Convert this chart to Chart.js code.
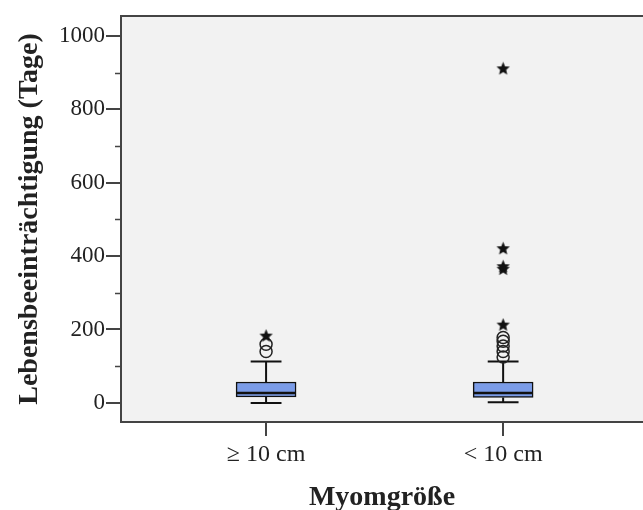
<!DOCTYPE html>
<html>
<head>
<meta charset="utf-8">
<script src="https://cdn.jsdelivr.net/npm/chart.js@4.4.1/dist/chart.umd.min.js"></script>
<style>
  html, body { margin: 0; padding: 0; background: #fff; }
  #wrap { width: 643px; height: 510px; }
</style>
</head>
<body>
<div id="wrap"><canvas id="box"></canvas></div>
<script>
// data
const groups = ['\u2265 10 cm', '< 10 cm'];
const q1 = [16, 15];
const median = [27, 27];
const q3 = [57, 57];
const whiskerLow = [0, 2];
const whiskerHigh = [113, 113];
const circleOutliers = [[140, 160], [125, 140, 155, 168, 178]];
const starOutliers = [[182], [212, 364, 371, 420, 910]];
const yTicks = [0, 200, 400, 600, 800, 1000];
const yMinorTicks = [100, 300, 500, 700, 900];

const serif = "'Liberation Serif', 'DejaVu Serif', serif";

// filled five point star used as point style
function makeStar(size) {
    const c = document.createElement('canvas');
    c.width = size; c.height = size;
    const g = c.getContext('2d');
    const r = size / 2, ri = r * 0.42;
    g.beginPath();
    for (let i = 0; i < 10; i++) {
        const rad = i % 2 ? ri : r - 0.5;
        const a = -Math.PI / 2 + i * Math.PI / 5;
        g.lineTo(r + rad * Math.cos(a), r + rad * Math.sin(a));
    }
    g.closePath();
    g.fillStyle = '#111';
    g.fill();
    return c;
}
const starImg = makeStar(15);

const circlePoints = [];
circleOutliers.forEach((arr, i) => arr.forEach(v => circlePoints.push({ x: i + 1, y: v })));
const starPoints = [];
starOutliers.forEach((arr, i) => arr.forEach(v => starPoints.push({ x: i + 1, y: v })));

// frame, minor ticks, whiskers and medians
const boxExtras = {
    id: 'boxExtras',
    beforeDraw(chart) {
        const { ctx, chartArea: a } = chart;
        ctx.save();
        ctx.fillStyle = '#f2f2f2';
        ctx.fillRect(a.left, a.top, a.right - a.left + 4, a.bottom - a.top);
        ctx.restore();
    },
    beforeDatasetsDraw(chart) {
        const { ctx, scales: { x, y } } = chart;
        ctx.save();
        ctx.strokeStyle = '#111';
        ctx.lineWidth = 2;
        groups.forEach((g, i) => {
            const cx = x.getPixelForValue(i + 1);
            const half = (x.getPixelForValue(1.065) - x.getPixelForValue(1));
            ctx.beginPath();
            ctx.moveTo(cx, y.getPixelForValue(q3[i]));
            ctx.lineTo(cx, y.getPixelForValue(whiskerHigh[i]));
            ctx.moveTo(cx, y.getPixelForValue(q1[i]));
            ctx.lineTo(cx, y.getPixelForValue(whiskerLow[i]));
            ctx.moveTo(cx - half, y.getPixelForValue(whiskerHigh[i]));
            ctx.lineTo(cx + half, y.getPixelForValue(whiskerHigh[i]));
            ctx.moveTo(cx - half, y.getPixelForValue(whiskerLow[i]));
            ctx.lineTo(cx + half, y.getPixelForValue(whiskerLow[i]));
            ctx.stroke();
        });
        ctx.restore();
    },
    afterDatasetsDraw(chart) {
        const { ctx, chartArea: a, scales: { x, y } } = chart;
        ctx.save();
        ctx.strokeStyle = '#111';
        ctx.lineWidth = 2.5;
        groups.forEach((g, i) => {
            const cx = x.getPixelForValue(i + 1);
            const half = (x.getPixelForValue(1.125) - x.getPixelForValue(1));
            const py = y.getPixelForValue(median[i]);
            ctx.beginPath();
            ctx.moveTo(cx - half, py);
            ctx.lineTo(cx + half, py);
            ctx.stroke();
        });
        // frame
        ctx.strokeStyle = '#444';
        ctx.lineWidth = 2;
        ctx.beginPath();
        ctx.moveTo(a.right + 4, a.top);
        ctx.lineTo(a.left, a.top);
        ctx.lineTo(a.left, a.bottom);
        ctx.lineTo(a.right + 4, a.bottom);
        ctx.stroke();
        // minor ticks
        ctx.lineWidth = 1.5;
        ctx.beginPath();
        yMinorTicks.forEach(v => {
            const py = Math.round(y.getPixelForValue(v)) + 0.5;
            ctx.moveTo(a.left - 6, py);
            ctx.lineTo(a.left, py);
        });
        ctx.stroke();
        ctx.restore();
    }
};

new Chart(document.getElementById('box'), {
    type: 'scatter',
    data: {
        datasets: [{
            type: 'bar',
            label: 'box',
            data: groups.map((g, i) => ({ x: i + 1, y: [q1[i], q3[i]] })),
            backgroundColor: '#7b9ce8',
            borderColor: '#111',
            borderWidth: 1.5,
            borderSkipped: false,
            barThickness: 60,
            order: 2
        }, {
            label: 'circles',
            data: circlePoints,
            pointStyle: 'circle',
            pointRadius: 6,
            pointBorderWidth: 1.5,
            borderColor: '#222',
            backgroundColor: 'rgba(0,0,0,0)',
            order: 1
        }, {
            label: 'stars',
            data: starPoints,
            pointStyle: starImg,
            order: 0
        }]
    },
    options: {
        responsive: true,
        maintainAspectRatio: false,
        animation: false,
        layout: { autoPadding: false, padding: { top: 16, right: 0, left: 13, bottom: -5 } },
        plugins: { legend: { display: false }, tooltip: { enabled: false } },
        scales: {
            x: {
                type: 'linear',
                offset: false,
                min: 0.388,
                max: 2.59,
                afterBuildTicks(scale) { scale.ticks = groups.map((g, i) => ({ value: i + 1 })); },
                afterFit(scale) { scale.height = 93; },
                ticks: {
                    callback: v => groups[v - 1] || '',
                    color: '#222',
                    font: { family: serif, size: 24 },
                    padding: 4
                },
                grid: { offset: false, drawOnChartArea: false, drawTicks: true, tickLength: 14, color: '#444', lineWidth: 2 },
                border: { display: false },
                title: {
                    display: true,
                    text: 'Myomgröße',
                    color: '#222',
                    font: { family: serif, size: 28, weight: 'bold' },
                    padding: { top: 0, bottom: 0 }
                }
            },
            y: {
                min: -52,
                max: 1054,
                afterBuildTicks(scale) { scale.ticks = yTicks.map(v => ({ value: v })); },
                afterFit(scale) { scale.width = 108; },
                ticks: {
                    callback: v => String(v),
                    color: '#222',
                    font: { family: serif, size: 23 },
                    padding: 1
                },
                grid: { drawOnChartArea: false, drawTicks: true, tickLength: 15, color: '#444', lineWidth: 2 },
                border: { display: false },
                title: {
                    display: true,
                    text: 'Lebensbeeinträchtigung (Tage)',
                    color: '#222',
                    font: { family: serif, size: 28, weight: 'bold' },
                    padding: { top: 0, bottom: 0 }
                }
            }
        }
    },
    plugins: [boxExtras]
});
</script>
</body>
</html>
